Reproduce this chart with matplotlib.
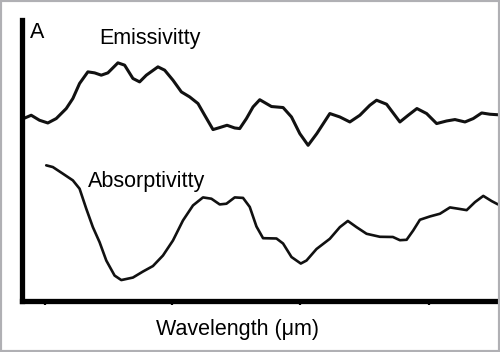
import matplotlib
matplotlib.use("Agg")
import matplotlib.pyplot as plt
from matplotlib.patches import Rectangle

# Emissivity curve (arbitrary wavelength units, arbitrary signal units)
emis_x = [2, 9.7, 18, 26.3, 34.7, 44.7, 51.3, 58, 66.3, 73, 79.7, 86.3, 96.3, 103, 111.3,
          118, 124.7, 136.3, 143, 151.3, 159.7, 168, 176.3, 183, 191.3, 198, 205.3, 213, 218,
          224.7, 231.3, 238, 249.7, 261.3, 269.7, 278, 286.3, 295, 308, 318, 328, 338, 348,
          354.7, 364.7, 378, 386.3, 395, 404.7, 414.7, 424.7, 433, 443, 451.3, 459.7, 468, 476]
emis_y = [181.7, 185, 180, 177.3, 181.7, 191.7, 201.7, 216.7, 228.3, 227.3, 225, 227.3, 237.3,
          235, 221.7, 218.3, 225, 233.3, 230, 220, 208.3, 203.3, 196.7, 185, 170.7, 172.7, 175,
          172.3, 171.7, 181.7, 193.3, 200.5, 193.7, 192.7, 183.3, 166.7, 155, 166.7, 186.7,
          183.3, 178.3, 185, 195, 200, 196, 178.3, 185, 191.7, 186.7, 176.7, 179.3, 180.7,
          178.3, 181.7, 187.3, 186, 185.5]

# Absorptivity curve
abs_x = [24.7, 31.3, 41.3, 51.3, 58, 64.7, 71.3, 78, 84.7, 93, 99.7, 111.3, 121.3, 131.3,
         141.3, 151.3, 161.3, 171.3, 181.3, 189.7, 198, 204.7, 213, 221.3, 228, 234.7, 241.3,
         254.7, 261.3, 269.7, 279, 284.7, 294.7, 308, 318, 326, 334.7, 344.7, 358, 371, 378,
         384.7, 391.3, 398, 408, 418, 428, 436.3, 444.7, 453, 461.3, 469.7, 476]
abs_y = [135, 133.3, 126.7, 120, 111.7, 91.7, 73.3, 58.3, 40, 25, 20.5, 23, 29, 34.5, 45, 60,
         80, 95, 103, 101.7, 96, 96.7, 103, 102.5, 93.5, 74, 62.3, 62, 57, 43.5, 37, 40, 51.5,
         61.7, 73.3, 79.5, 73.3, 66.7, 63.7, 63.5, 60.3, 60.7, 70, 80.7, 84, 86.7, 93, 91.7,
         90.3, 98.3, 104.5, 99.3, 96]

tick_pos = [23, 150, 278, 407]

plt.rcParams['font.family'] = ['Liberation Sans', 'DejaVu Sans']

fig = plt.figure(figsize=(5.0, 3.52), dpi=100)
ax = fig.add_axes([0.043, 0.146, 0.953, 0.797])

ax.plot(emis_x, emis_y, color='#111111', lw=2.2, solid_joinstyle='round',
        solid_capstyle='round')
ax.plot(abs_x, abs_y, color='#111111', lw=1.9, solid_joinstyle='round',
        solid_capstyle='round')

ax.set_xlim(0, 476)
ax.set_ylim(0, 280)
for s in ['top', 'right']:
    ax.spines[s].set_visible(False)
ax.spines['left'].set_linewidth(3.8)
ax.spines['bottom'].set_linewidth(3.8)
ax.set_xticks(tick_pos)
ax.set_xticklabels([])
ax.set_yticks([])
ax.tick_params(axis='x', direction='out', length=3, width=1.6)

ax.text(8, 262, "A", fontsize=15.5, va='baseline', ha='left')
ax.text(78, 256, "Emissivitty", fontsize=15.5, va='baseline', ha='left')
ax.text(66.3, 113, "Absorptivitty", fontsize=15.5, va='baseline', ha='left')
fig.text(237 / 500, (352 - 335.5) / 352, "Wavelength (μm)", fontsize=15.5,
         va='baseline', ha='center')

fig.patches.append(Rectangle((0, 0), 1, 1, transform=fig.transFigure, fill=False,
                             edgecolor='#b0b0b4', lw=3, zorder=10))

fig.savefig("out.png", dpi=100)
